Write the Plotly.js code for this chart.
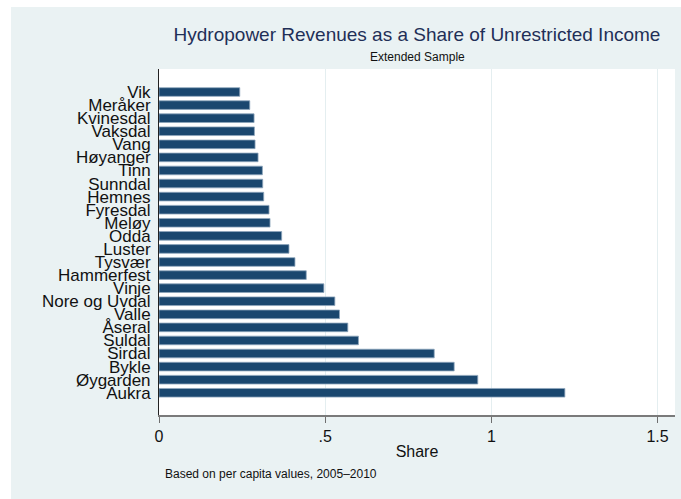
<!DOCTYPE html>
<html>
<head>
<meta charset="utf-8">
<script src="https://cdn.plot.ly/plotly-3.0.1.min.js"></script>
<style>html,body{margin:0;padding:0;background:#fff;}#chart{width:681px;height:499px;}</style>
</head>
<body>
<div id="chart"></div>
<script>
// Municipalities, top to bottom as shown
const municipalities = ["Vik","Meråker","Kvinesdal","Vaksdal","Vang","Høyanger","Tinn","Sunndal","Hemnes","Fyresdal","Meløy","Odda","Luster","Tysvær","Hammerfest","Vinje","Nore og Uvdal","Valle","Åseral","Suldal","Sirdal","Bykle","Øygarden","Aukra"];
// Hydropower revenues as share of unrestricted income
const shareValues = [0.243,0.273,0.286,0.287,0.289,0.298,0.311,0.312,0.315,0.331,0.334,0.369,0.391,0.409,0.443,0.496,0.529,0.543,0.568,0.600,0.828,0.888,0.959,1.221];
const xTickVals = [0, 0.5, 1, 1.5];
const xTickText = ["0", ".5", "1", "1.5"];

const titleText = "Hydropower Revenues as a Share of Unrestricted Income";
const subtitleText = "Extended Sample";
const xTitleText = "Share";
const noteText = "Based on per capita values, 2005–2010";

const W = 681, H = 499;
const L = 159, R = 6, T = 69, B = 84;
const pw = W - L - R, ph = H - T - B;
const px2x = p => (p - L) / pw;
const py2y = p => (H - B - p) / ph;
const bg = "#eaf2f3";
const font = "Liberation Sans, Arial, Helvetica, sans-serif";

const trace = {
  type: "bar",
  orientation: "h",
  y: municipalities,
  x: shareValues,
  width: 0.66,
  marker: {color: "#1a476f", line: {color: "#8ea6bc", width: 0.8}},
  hoverinfo: "x+y"
};

const layout = {
  width: W, height: H,
  margin: {l: L, r: R, t: T, b: B, pad: 0},
  paper_bgcolor: "#ffffff",
  plot_bgcolor: "#ffffff",
  showlegend: false,
  font: {family: font, color: "#000"},
  title: {
    text: titleText,
    font: {family: font, size: 19, color: "#1f2f57"},
    x: (L + pw / 2) / W, xanchor: "center", xref: "container",
    y: 1 - 34 / H, yanchor: "middle", yref: "container"
  },
  xaxis: {
    range: [0, (675 - 159) / 332.4],
    tickvals: xTickVals, ticktext: xTickText,
    ticks: "outside", ticklen: 6, tickcolor: "#6f6f6f", tickwidth: 1,
    tickfont: {family: font, size: 16, color: "#111"},
    showgrid: true, gridcolor: "#e4eef0", gridwidth: 1,
    zeroline: false,
    showline: true, linecolor: "#7a7a7a", linewidth: 1.5,
    title: {text: xTitleText, font: {family: font, size: 16, color: "#111"}, standoff: 2},
    fixedrange: true
  },
  yaxis: {
    type: "category",
    categoryorder: "array", categoryarray: municipalities,
    tickmode: "linear", tick0: 0, dtick: 1,
    range: [24.7, -1.76],
    ticks: "", showgrid: false, zeroline: false,
    showline: true, linecolor: "#222", linewidth: 1,
    tickfont: {family: font, size: 17, color: "#111"},
    ticklabelstandoff: 4,
    fixedrange: true
  },
  shapes: [
    {type: "rect", xref: "paper", yref: "paper", layer: "below",
     x0: px2x(11), x1: px2x(682), y0: py2y(500), y1: py2y(7),
     fillcolor: bg, line: {width: 0}},
    {type: "rect", xref: "paper", yref: "paper", layer: "below",
     x0: 0, x1: 1, y0: 0, y1: 1,
     fillcolor: "#ffffff", line: {width: 0}}
  ],
  annotations: [
    {text: subtitleText, xref: "paper", yref: "paper", x: 0.5, y: py2y(57),
     xanchor: "center", yanchor: "middle", showarrow: false,
     font: {family: font, size: 12, color: "#111"}},
    {text: noteText, xref: "paper", yref: "paper", x: px2x(163), y: py2y(474),
     xanchor: "left", yanchor: "middle", showarrow: false,
     font: {family: font, size: 12, color: "#111"}}
  ],
  bargap: 0.3
};

Plotly.newPlot("chart", [trace], layout, {displayModeBar: false, staticPlot: true});
</script>
</body>
</html>
